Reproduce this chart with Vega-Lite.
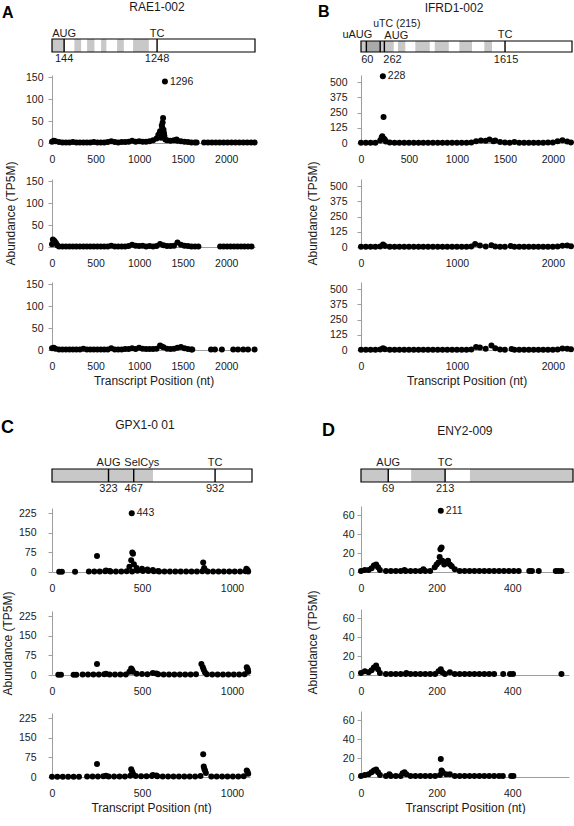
{
"$schema": "https://vega.github.io/schema/vega-lite/v6.json",
"background": "white",
"autosize": {"type": "pad"},
"padding": {"left": 1, "top": 0, "right": 0, "bottom": 0},
"columns": 2,
"bounds": "flush",
"align": "each",
"spacing": {"row": 0, "column": 106},
"datasets": {
"panels": [{"g":"A","letter":"A","gene":"RAE1-002"},{"g":"B","letter":"B","gene":"IFRD1-002"},{"g":"C","letter":"C","gene":"GPX1-0 01"},{"g":"D","letter":"D","gene":"ENY2-009"}],
"seg": [
{"g":"A","s":0,"e":2411,"kind":"transcript"},{"g":"A","s":0,"e":144,"kind":"shaded"},{"g":"A","s":266,"e":346,"kind":"shaded"},{"g":"A","s":417,"e":504,"kind":"shaded"},{"g":"A","s":583,"e":646,"kind":"shaded"},{"g":"A","s":773,"e":853,"kind":"shaded"},{"g":"A","s":963,"e":1150,"kind":"shaded"},
{"g":"B","s":0,"e":2366,"kind":"transcript"},{"g":"B","s":0,"e":60,"kind":"shaded"},{"g":"B","s":60,"e":215,"kind":"uorf"},{"g":"B","s":215,"e":367,"kind":"shaded"},{"g":"B","s":415,"e":497,"kind":"shaded"},{"g":"B","s":609,"e":771,"kind":"shaded"},{"g":"B","s":827,"e":984,"kind":"shaded"},{"g":"B","s":1103,"e":1245,"kind":"shaded"},{"g":"B","s":1383,"e":1469,"kind":"shaded"},
{"g":"C","s":0,"e":1143,"kind":"transcript"},{"g":"C","s":0,"e":577,"kind":"shaded"},
{"g":"D","s":0,"e":537,"kind":"transcript"},{"g":"D","s":0,"e":69,"kind":"shaded"},{"g":"D","s":127,"e":213,"kind":"shaded"},{"g":"D","s":276,"e":537,"kind":"shaded"}
],
"feat": [
{"g":"A","pos":144,"name":"AUG","num":"144"},{"g":"A","pos":1248,"name":"TC","num":"1248"},
{"g":"B","pos":60,"name":"uAUG","num":"60"},{"g":"B","pos":215,"name":"uTC (215)","num":""},{"g":"B","pos":262,"name":"AUG","num":"262"},{"g":"B","pos":1615,"name":"TC","num":"1615"},
{"g":"C","pos":323,"name":"AUG","num":"323"},{"g":"C","pos":467,"name":"SelCys","num":"467"},{"g":"C","pos":932,"name":"TC","num":"932"},
{"g":"D","pos":69,"name":"AUG","num":"69"},{"g":"D","pos":213,"name":"TC","num":"213"}
],
"cond": [
{"p":"A1","c":"siGL2+siXRN1"},{"p":"A2","c":"siSMG6+siXRN1"},{"p":"A3","c":"siUPF1+siXRN1"},
{"p":"B1","c":"siGL2+siXRN1"},{"p":"B2","c":"siSMG6+siXRN1"},{"p":"B3","c":"siUPF1+siXRN1"},
{"p":"C1","c":"siGL2+siXRN1"},{"p":"C2","c":"siSMG6+siXRN1"},{"p":"C3","c":"siUPF1+siXRN1"},
{"p":"D1","c":"siGL2+siXRN1"},{"p":"D2","c":"siSMG6+siXRN1"},{"p":"D3","c":"siUPF1+siXRN1"}
],
"pts": [
{"p":"A1","x":0,"y":3},{"p":"A1","x":20,"y":5},{"p":"A1","x":40,"y":4},{"p":"A1","x":80,"y":2},{"p":"A1","x":120,"y":1},{"p":"A1","x":160,"y":1},{"p":"A1","x":200,"y":1},{"p":"A1","x":240,"y":2},{"p":"A1","x":280,"y":1},{"p":"A1","x":320,"y":1},{"p":"A1","x":360,"y":1},{"p":"A1","x":400,"y":1},{"p":"A1","x":440,"y":1},{"p":"A1","x":480,"y":2},{"p":"A1","x":520,"y":1},{"p":"A1","x":560,"y":1},{"p":"A1","x":600,"y":1},{"p":"A1","x":640,"y":2},{"p":"A1","x":680,"y":4},{"p":"A1","x":720,"y":2},{"p":"A1","x":760,"y":1},{"p":"A1","x":800,"y":2},{"p":"A1","x":840,"y":2},{"p":"A1","x":880,"y":3},{"p":"A1","x":920,"y":5},{"p":"A1","x":960,"y":3},{"p":"A1","x":1000,"y":4},{"p":"A1","x":1040,"y":3},{"p":"A1","x":1080,"y":3},{"p":"A1","x":1120,"y":4},{"p":"A1","x":1160,"y":6},{"p":"A1","x":1200,"y":10},{"p":"A1","x":1220,"y":18},{"p":"A1","x":1230,"y":20},{"p":"A1","x":1240,"y":27},{"p":"A1","x":1250,"y":12},{"p":"A1","x":1260,"y":40},{"p":"A1","x":1265,"y":35},{"p":"A1","x":1270,"y":47},{"p":"A1","x":1275,"y":57},{"p":"A1","x":1278,"y":25},{"p":"A1","x":1280,"y":30},{"p":"A1","x":1285,"y":22},{"p":"A1","x":1290,"y":16},{"p":"A1","x":1296,"y":140,"t":"1296"},{"p":"A1","x":1300,"y":8},{"p":"A1","x":1320,"y":6},{"p":"A1","x":1360,"y":5},{"p":"A1","x":1400,"y":6},{"p":"A1","x":1430,"y":8},{"p":"A1","x":1440,"y":5},{"p":"A1","x":1480,"y":4},{"p":"A1","x":1520,"y":3},{"p":"A1","x":1560,"y":2},{"p":"A1","x":1600,"y":1},{"p":"A1","x":1640,"y":1},{"p":"A1","x":1660,"y":1},{"p":"A1","x":1745,"y":1},{"p":"A1","x":1790,"y":1},{"p":"A1","x":1835,"y":1},{"p":"A1","x":1880,"y":1},{"p":"A1","x":1925,"y":1},{"p":"A1","x":1970,"y":1},{"p":"A1","x":2015,"y":1},{"p":"A1","x":2060,"y":1},{"p":"A1","x":2105,"y":1},{"p":"A1","x":2150,"y":1},{"p":"A1","x":2195,"y":1},{"p":"A1","x":2240,"y":1},{"p":"A1","x":2285,"y":1},{"p":"A1","x":2325,"y":1},
{"p":"A2","x":0,"y":6},{"p":"A2","x":10,"y":17},{"p":"A2","x":20,"y":15},{"p":"A2","x":30,"y":13},{"p":"A2","x":45,"y":9},{"p":"A2","x":60,"y":4},{"p":"A2","x":80,"y":1},{"p":"A2","x":120,"y":1},{"p":"A2","x":160,"y":1},{"p":"A2","x":200,"y":1},{"p":"A2","x":240,"y":1},{"p":"A2","x":280,"y":1},{"p":"A2","x":320,"y":1},{"p":"A2","x":360,"y":1},{"p":"A2","x":400,"y":1},{"p":"A2","x":440,"y":1},{"p":"A2","x":480,"y":1},{"p":"A2","x":520,"y":1},{"p":"A2","x":560,"y":1},{"p":"A2","x":600,"y":1},{"p":"A2","x":640,"y":1},{"p":"A2","x":680,"y":3},{"p":"A2","x":720,"y":1},{"p":"A2","x":760,"y":1},{"p":"A2","x":800,"y":1},{"p":"A2","x":840,"y":1},{"p":"A2","x":880,"y":2},{"p":"A2","x":920,"y":5},{"p":"A2","x":960,"y":3},{"p":"A2","x":1000,"y":2},{"p":"A2","x":1040,"y":3},{"p":"A2","x":1080,"y":1},{"p":"A2","x":1120,"y":2},{"p":"A2","x":1160,"y":1},{"p":"A2","x":1200,"y":2},{"p":"A2","x":1240,"y":7},{"p":"A2","x":1280,"y":4},{"p":"A2","x":1320,"y":2},{"p":"A2","x":1360,"y":2},{"p":"A2","x":1400,"y":3},{"p":"A2","x":1440,"y":10},{"p":"A2","x":1480,"y":5},{"p":"A2","x":1520,"y":3},{"p":"A2","x":1560,"y":2},{"p":"A2","x":1600,"y":1},{"p":"A2","x":1640,"y":1},{"p":"A2","x":1680,"y":1},{"p":"A2","x":1930,"y":1},{"p":"A2","x":1970,"y":1},{"p":"A2","x":2010,"y":1},{"p":"A2","x":2050,"y":1},{"p":"A2","x":2090,"y":1},{"p":"A2","x":2130,"y":1},{"p":"A2","x":2170,"y":1},{"p":"A2","x":2210,"y":1},{"p":"A2","x":2250,"y":1},{"p":"A2","x":2290,"y":1},
{"p":"A3","x":0,"y":4},{"p":"A3","x":20,"y":5},{"p":"A3","x":40,"y":3},{"p":"A3","x":80,"y":1},{"p":"A3","x":120,"y":1},{"p":"A3","x":160,"y":1},{"p":"A3","x":200,"y":1},{"p":"A3","x":240,"y":1},{"p":"A3","x":280,"y":1},{"p":"A3","x":320,"y":1},{"p":"A3","x":360,"y":3},{"p":"A3","x":400,"y":1},{"p":"A3","x":440,"y":1},{"p":"A3","x":480,"y":1},{"p":"A3","x":520,"y":1},{"p":"A3","x":560,"y":1},{"p":"A3","x":600,"y":1},{"p":"A3","x":640,"y":1},{"p":"A3","x":680,"y":4},{"p":"A3","x":720,"y":1},{"p":"A3","x":760,"y":1},{"p":"A3","x":800,"y":1},{"p":"A3","x":840,"y":2},{"p":"A3","x":880,"y":2},{"p":"A3","x":920,"y":4},{"p":"A3","x":960,"y":2},{"p":"A3","x":1000,"y":5},{"p":"A3","x":1040,"y":3},{"p":"A3","x":1080,"y":2},{"p":"A3","x":1120,"y":2},{"p":"A3","x":1160,"y":2},{"p":"A3","x":1200,"y":3},{"p":"A3","x":1240,"y":10},{"p":"A3","x":1260,"y":8},{"p":"A3","x":1280,"y":6},{"p":"A3","x":1320,"y":3},{"p":"A3","x":1360,"y":2},{"p":"A3","x":1400,"y":3},{"p":"A3","x":1440,"y":5},{"p":"A3","x":1480,"y":7},{"p":"A3","x":1520,"y":4},{"p":"A3","x":1560,"y":2},{"p":"A3","x":1600,"y":1},{"p":"A3","x":1610,"y":1},{"p":"A3","x":1825,"y":1},{"p":"A3","x":1870,"y":1},{"p":"A3","x":1950,"y":1},{"p":"A3","x":2080,"y":1},{"p":"A3","x":2135,"y":1},{"p":"A3","x":2195,"y":1},{"p":"A3","x":2250,"y":1},{"p":"A3","x":2325,"y":1},
{"p":"B1","x":0,"y":3},{"p":"B1","x":50,"y":2},{"p":"B1","x":100,"y":2},{"p":"B1","x":150,"y":3},{"p":"B1","x":200,"y":20},{"p":"B1","x":215,"y":45},{"p":"B1","x":222,"y":55},{"p":"B1","x":228,"y":549,"t":"228"},{"p":"B1","x":235,"y":214},{"p":"B1","x":240,"y":35},{"p":"B1","x":250,"y":25},{"p":"B1","x":260,"y":12},{"p":"B1","x":300,"y":5},{"p":"B1","x":350,"y":3},{"p":"B1","x":400,"y":2},{"p":"B1","x":450,"y":2},{"p":"B1","x":500,"y":2},{"p":"B1","x":550,"y":2},{"p":"B1","x":600,"y":2},{"p":"B1","x":650,"y":2},{"p":"B1","x":700,"y":3},{"p":"B1","x":750,"y":2},{"p":"B1","x":800,"y":2},{"p":"B1","x":850,"y":3},{"p":"B1","x":900,"y":2},{"p":"B1","x":950,"y":2},{"p":"B1","x":1000,"y":2},{"p":"B1","x":1050,"y":3},{"p":"B1","x":1100,"y":3},{"p":"B1","x":1150,"y":5},{"p":"B1","x":1200,"y":15},{"p":"B1","x":1250,"y":20},{"p":"B1","x":1300,"y":18},{"p":"B1","x":1340,"y":28},{"p":"B1","x":1380,"y":15},{"p":"B1","x":1400,"y":20},{"p":"B1","x":1450,"y":8},{"p":"B1","x":1500,"y":4},{"p":"B1","x":1550,"y":3},{"p":"B1","x":1600,"y":8},{"p":"B1","x":1650,"y":3},{"p":"B1","x":1700,"y":2},{"p":"B1","x":1750,"y":2},{"p":"B1","x":1800,"y":3},{"p":"B1","x":1850,"y":2},{"p":"B1","x":1900,"y":3},{"p":"B1","x":1950,"y":4},{"p":"B1","x":2000,"y":5},{"p":"B1","x":2050,"y":15},{"p":"B1","x":2100,"y":22},{"p":"B1","x":2150,"y":12},{"p":"B1","x":2190,"y":5},
{"p":"B2","x":0,"y":2},{"p":"B2","x":50,"y":2},{"p":"B2","x":100,"y":2},{"p":"B2","x":150,"y":2},{"p":"B2","x":200,"y":5},{"p":"B2","x":230,"y":20},{"p":"B2","x":250,"y":8},{"p":"B2","x":300,"y":2},{"p":"B2","x":350,"y":2},{"p":"B2","x":400,"y":2},{"p":"B2","x":450,"y":2},{"p":"B2","x":500,"y":2},{"p":"B2","x":550,"y":2},{"p":"B2","x":600,"y":2},{"p":"B2","x":650,"y":2},{"p":"B2","x":700,"y":2},{"p":"B2","x":750,"y":2},{"p":"B2","x":800,"y":2},{"p":"B2","x":850,"y":2},{"p":"B2","x":900,"y":2},{"p":"B2","x":950,"y":2},{"p":"B2","x":1000,"y":2},{"p":"B2","x":1050,"y":2},{"p":"B2","x":1100,"y":3},{"p":"B2","x":1150,"y":5},{"p":"B2","x":1190,"y":25},{"p":"B2","x":1240,"y":12},{"p":"B2","x":1300,"y":5},{"p":"B2","x":1360,"y":15},{"p":"B2","x":1400,"y":5},{"p":"B2","x":1450,"y":3},{"p":"B2","x":1500,"y":2},{"p":"B2","x":1560,"y":8},{"p":"B2","x":1600,"y":2},{"p":"B2","x":1650,"y":2},{"p":"B2","x":1700,"y":2},{"p":"B2","x":1750,"y":2},{"p":"B2","x":1800,"y":2},{"p":"B2","x":1850,"y":2},{"p":"B2","x":1900,"y":2},{"p":"B2","x":1950,"y":3},{"p":"B2","x":2000,"y":3},{"p":"B2","x":2050,"y":5},{"p":"B2","x":2100,"y":10},{"p":"B2","x":2150,"y":12},{"p":"B2","x":2190,"y":6},
{"p":"B3","x":0,"y":2},{"p":"B3","x":50,"y":2},{"p":"B3","x":100,"y":2},{"p":"B3","x":150,"y":2},{"p":"B3","x":200,"y":5},{"p":"B3","x":230,"y":15},{"p":"B3","x":250,"y":6},{"p":"B3","x":300,"y":2},{"p":"B3","x":350,"y":2},{"p":"B3","x":400,"y":2},{"p":"B3","x":450,"y":2},{"p":"B3","x":500,"y":2},{"p":"B3","x":550,"y":2},{"p":"B3","x":600,"y":2},{"p":"B3","x":650,"y":2},{"p":"B3","x":700,"y":2},{"p":"B3","x":750,"y":2},{"p":"B3","x":800,"y":2},{"p":"B3","x":850,"y":2},{"p":"B3","x":900,"y":2},{"p":"B3","x":950,"y":2},{"p":"B3","x":1000,"y":2},{"p":"B3","x":1050,"y":2},{"p":"B3","x":1100,"y":3},{"p":"B3","x":1150,"y":5},{"p":"B3","x":1200,"y":25},{"p":"B3","x":1240,"y":20},{"p":"B3","x":1300,"y":10},{"p":"B3","x":1360,"y":38},{"p":"B3","x":1400,"y":15},{"p":"B3","x":1450,"y":5},{"p":"B3","x":1500,"y":3},{"p":"B3","x":1570,"y":8},{"p":"B3","x":1600,"y":2},{"p":"B3","x":1650,"y":2},{"p":"B3","x":1700,"y":2},{"p":"B3","x":1750,"y":2},{"p":"B3","x":1800,"y":2},{"p":"B3","x":1850,"y":2},{"p":"B3","x":1900,"y":2},{"p":"B3","x":1950,"y":3},{"p":"B3","x":2000,"y":3},{"p":"B3","x":2050,"y":4},{"p":"B3","x":2100,"y":12},{"p":"B3","x":2150,"y":10},{"p":"B3","x":2190,"y":6},
{"p":"C1","x":40,"y":1},{"p":"C1","x":55,"y":1},{"p":"C1","x":128,"y":1},{"p":"C1","x":205,"y":2},{"p":"C1","x":235,"y":2},{"p":"C1","x":250,"y":61},{"p":"C1","x":265,"y":2},{"p":"C1","x":295,"y":3},{"p":"C1","x":300,"y":6},{"p":"C1","x":320,"y":4},{"p":"C1","x":325,"y":2},{"p":"C1","x":355,"y":2},{"p":"C1","x":385,"y":2},{"p":"C1","x":415,"y":3},{"p":"C1","x":430,"y":20},{"p":"C1","x":440,"y":45},{"p":"C1","x":443,"y":225,"t":"443"},{"p":"C1","x":445,"y":2},{"p":"C1","x":446,"y":75},{"p":"C1","x":450,"y":70},{"p":"C1","x":455,"y":30},{"p":"C1","x":470,"y":15},{"p":"C1","x":475,"y":5},{"p":"C1","x":500,"y":12},{"p":"C1","x":505,"y":4},{"p":"C1","x":530,"y":10},{"p":"C1","x":535,"y":4},{"p":"C1","x":560,"y":8},{"p":"C1","x":565,"y":3},{"p":"C1","x":590,"y":4},{"p":"C1","x":595,"y":2},{"p":"C1","x":625,"y":2},{"p":"C1","x":655,"y":2},{"p":"C1","x":685,"y":2},{"p":"C1","x":715,"y":2},{"p":"C1","x":745,"y":2},{"p":"C1","x":775,"y":2},{"p":"C1","x":805,"y":2},{"p":"C1","x":835,"y":3},{"p":"C1","x":840,"y":36},{"p":"C1","x":845,"y":15},{"p":"C1","x":850,"y":8},{"p":"C1","x":865,"y":2},{"p":"C1","x":895,"y":2},{"p":"C1","x":925,"y":2},{"p":"C1","x":955,"y":2},{"p":"C1","x":985,"y":2},{"p":"C1","x":1015,"y":2},{"p":"C1","x":1045,"y":2},{"p":"C1","x":1075,"y":3},{"p":"C1","x":1080,"y":12},{"p":"C1","x":1086,"y":8},{"p":"C1","x":1090,"y":2},
{"p":"C2","x":35,"y":1},{"p":"C2","x":50,"y":1},{"p":"C2","x":120,"y":1},{"p":"C2","x":135,"y":1},{"p":"C2","x":170,"y":2},{"p":"C2","x":200,"y":2},{"p":"C2","x":230,"y":2},{"p":"C2","x":250,"y":42},{"p":"C2","x":260,"y":2},{"p":"C2","x":290,"y":3},{"p":"C2","x":300,"y":5},{"p":"C2","x":320,"y":2},{"p":"C2","x":350,"y":2},{"p":"C2","x":380,"y":2},{"p":"C2","x":410,"y":2},{"p":"C2","x":430,"y":12},{"p":"C2","x":440,"y":25},{"p":"C2","x":445,"y":20},{"p":"C2","x":450,"y":12},{"p":"C2","x":470,"y":5},{"p":"C2","x":500,"y":4},{"p":"C2","x":530,"y":3},{"p":"C2","x":560,"y":8},{"p":"C2","x":580,"y":6},{"p":"C2","x":590,"y":3},{"p":"C2","x":620,"y":2},{"p":"C2","x":650,"y":2},{"p":"C2","x":680,"y":2},{"p":"C2","x":710,"y":2},{"p":"C2","x":740,"y":2},{"p":"C2","x":770,"y":2},{"p":"C2","x":800,"y":3},{"p":"C2","x":830,"y":42},{"p":"C2","x":838,"y":30},{"p":"C2","x":843,"y":20},{"p":"C2","x":850,"y":10},{"p":"C2","x":860,"y":3},{"p":"C2","x":890,"y":2},{"p":"C2","x":920,"y":2},{"p":"C2","x":950,"y":2},{"p":"C2","x":980,"y":2},{"p":"C2","x":1010,"y":2},{"p":"C2","x":1040,"y":2},{"p":"C2","x":1070,"y":3},{"p":"C2","x":1082,"y":30},{"p":"C2","x":1085,"y":25},{"p":"C2","x":1088,"y":20},{"p":"C2","x":1090,"y":12},
{"p":"C3","x":0,"y":1},{"p":"C3","x":30,"y":1},{"p":"C3","x":60,"y":1},{"p":"C3","x":90,"y":1},{"p":"C3","x":120,"y":1},{"p":"C3","x":150,"y":1},{"p":"C3","x":195,"y":2},{"p":"C3","x":225,"y":2},{"p":"C3","x":250,"y":50},{"p":"C3","x":255,"y":2},{"p":"C3","x":285,"y":3},{"p":"C3","x":300,"y":5},{"p":"C3","x":315,"y":2},{"p":"C3","x":345,"y":2},{"p":"C3","x":375,"y":2},{"p":"C3","x":405,"y":2},{"p":"C3","x":435,"y":5},{"p":"C3","x":440,"y":30},{"p":"C3","x":445,"y":20},{"p":"C3","x":450,"y":12},{"p":"C3","x":465,"y":4},{"p":"C3","x":495,"y":3},{"p":"C3","x":525,"y":3},{"p":"C3","x":555,"y":4},{"p":"C3","x":560,"y":8},{"p":"C3","x":580,"y":6},{"p":"C3","x":585,"y":3},{"p":"C3","x":615,"y":2},{"p":"C3","x":645,"y":2},{"p":"C3","x":675,"y":2},{"p":"C3","x":705,"y":2},{"p":"C3","x":735,"y":2},{"p":"C3","x":765,"y":2},{"p":"C3","x":795,"y":2},{"p":"C3","x":825,"y":4},{"p":"C3","x":840,"y":87},{"p":"C3","x":843,"y":40},{"p":"C3","x":846,"y":32},{"p":"C3","x":850,"y":25},{"p":"C3","x":855,"y":15},{"p":"C3","x":885,"y":2},{"p":"C3","x":915,"y":2},{"p":"C3","x":945,"y":2},{"p":"C3","x":975,"y":2},{"p":"C3","x":1005,"y":2},{"p":"C3","x":1035,"y":2},{"p":"C3","x":1065,"y":3},{"p":"C3","x":1082,"y":25},{"p":"C3","x":1086,"y":20},{"p":"C3","x":1090,"y":12},
{"p":"D1","x":0,"y":1},{"p":"D1","x":10,"y":2},{"p":"D1","x":20,"y":2},{"p":"D1","x":28,"y":4},{"p":"D1","x":34,"y":7},{"p":"D1","x":40,"y":8},{"p":"D1","x":45,"y":5},{"p":"D1","x":50,"y":2},{"p":"D1","x":66,"y":1},{"p":"D1","x":79,"y":1},{"p":"D1","x":92,"y":1},{"p":"D1","x":105,"y":1},{"p":"D1","x":115,"y":2},{"p":"D1","x":118,"y":1},{"p":"D1","x":131,"y":1},{"p":"D1","x":144,"y":1},{"p":"D1","x":157,"y":1},{"p":"D1","x":165,"y":3},{"p":"D1","x":170,"y":1},{"p":"D1","x":183,"y":1},{"p":"D1","x":195,"y":5},{"p":"D1","x":200,"y":8},{"p":"D1","x":205,"y":10},{"p":"D1","x":208,"y":16},{"p":"D1","x":210,"y":24},{"p":"D1","x":211,"y":65,"t":"211"},{"p":"D1","x":213,"y":26},{"p":"D1","x":215,"y":12},{"p":"D1","x":220,"y":8},{"p":"D1","x":225,"y":10},{"p":"D1","x":230,"y":12},{"p":"D1","x":235,"y":8},{"p":"D1","x":240,"y":6},{"p":"D1","x":248,"y":3},{"p":"D1","x":261,"y":1},{"p":"D1","x":274,"y":1},{"p":"D1","x":287,"y":1},{"p":"D1","x":300,"y":1},{"p":"D1","x":313,"y":1},{"p":"D1","x":326,"y":1},{"p":"D1","x":339,"y":1},{"p":"D1","x":352,"y":1},{"p":"D1","x":365,"y":1},{"p":"D1","x":378,"y":1},{"p":"D1","x":391,"y":1},{"p":"D1","x":404,"y":1},{"p":"D1","x":417,"y":1},{"p":"D1","x":445,"y":1},{"p":"D1","x":452,"y":1},{"p":"D1","x":470,"y":1},{"p":"D1","x":515,"y":1},{"p":"D1","x":522,"y":1},{"p":"D1","x":530,"y":1},
{"p":"D2","x":0,"y":2},{"p":"D2","x":10,"y":4},{"p":"D2","x":20,"y":3},{"p":"D2","x":28,"y":5},{"p":"D2","x":34,"y":8},{"p":"D2","x":40,"y":10},{"p":"D2","x":45,"y":6},{"p":"D2","x":50,"y":2},{"p":"D2","x":66,"y":1},{"p":"D2","x":79,"y":1},{"p":"D2","x":92,"y":1},{"p":"D2","x":105,"y":1},{"p":"D2","x":118,"y":1},{"p":"D2","x":120,"y":2},{"p":"D2","x":131,"y":1},{"p":"D2","x":144,"y":1},{"p":"D2","x":157,"y":1},{"p":"D2","x":170,"y":1},{"p":"D2","x":183,"y":1},{"p":"D2","x":196,"y":1},{"p":"D2","x":205,"y":4},{"p":"D2","x":211,"y":6},{"p":"D2","x":215,"y":3},{"p":"D2","x":222,"y":1},{"p":"D2","x":235,"y":3},{"p":"D2","x":248,"y":1},{"p":"D2","x":261,"y":1},{"p":"D2","x":274,"y":1},{"p":"D2","x":287,"y":1},{"p":"D2","x":300,"y":1},{"p":"D2","x":313,"y":1},{"p":"D2","x":326,"y":1},{"p":"D2","x":339,"y":1},{"p":"D2","x":352,"y":1},{"p":"D2","x":376,"y":1},{"p":"D2","x":394,"y":1},{"p":"D2","x":402,"y":1},{"p":"D2","x":530,"y":1},
{"p":"D3","x":0,"y":1},{"p":"D3","x":10,"y":2},{"p":"D3","x":20,"y":3},{"p":"D3","x":28,"y":5},{"p":"D3","x":34,"y":7},{"p":"D3","x":40,"y":8},{"p":"D3","x":45,"y":5},{"p":"D3","x":50,"y":2},{"p":"D3","x":66,"y":1},{"p":"D3","x":75,"y":3},{"p":"D3","x":79,"y":1},{"p":"D3","x":92,"y":1},{"p":"D3","x":105,"y":1},{"p":"D3","x":110,"y":4},{"p":"D3","x":115,"y":5},{"p":"D3","x":120,"y":3},{"p":"D3","x":131,"y":1},{"p":"D3","x":144,"y":1},{"p":"D3","x":157,"y":1},{"p":"D3","x":170,"y":1},{"p":"D3","x":183,"y":1},{"p":"D3","x":196,"y":1},{"p":"D3","x":209,"y":2},{"p":"D3","x":211,"y":19},{"p":"D3","x":213,"y":7},{"p":"D3","x":216,"y":5},{"p":"D3","x":225,"y":3},{"p":"D3","x":235,"y":3},{"p":"D3","x":248,"y":1},{"p":"D3","x":261,"y":1},{"p":"D3","x":274,"y":1},{"p":"D3","x":287,"y":1},{"p":"D3","x":300,"y":1},{"p":"D3","x":313,"y":1},{"p":"D3","x":326,"y":1},{"p":"D3","x":339,"y":1},{"p":"D3","x":352,"y":1},{"p":"D3","x":365,"y":1},{"p":"D3","x":375,"y":1},{"p":"D3","x":397,"y":1},{"p":"D3","x":403,"y":1}
]
},
"concat": [
{"width":203,"height":52,"layer":[
 {"data":{"name":"seg"},"transform":[{"filter":"datum.g=='A'"}],"mark":{"type":"rect"},
  "encoding":{"x":{"field":"s","type":"quantitative","scale":{"domain":[0,2411],"nice":false,"zero":false},"axis":null},"x2":{"field":"e"},
   "y":{"datum":0,"type":"quantitative","scale":{"domain":[0,1],"range":[52,39],"nice":false},"axis":null},"y2":{"datum":1},
   "color":{"field":"kind","type":"nominal","scale":{"domain":["transcript","shaded","uorf"],"range":["#ffffff","#c8c8c8","#a9a9a9"]},"legend":null}}},
 {"data":{"name":"feat"},"transform":[{"filter":"datum.g=='A'"}],"mark":{"type":"rule","color":"#000","strokeWidth":1.4},
  "encoding":{"x":{"field":"pos","type":"quantitative","scale":{"domain":[0,2411],"nice":false,"zero":false},"axis":null},
   "y":{"datum":0,"type":"quantitative","scale":{"domain":[0,1],"range":[52,39],"nice":false},"axis":null},"y2":{"datum":1}}},
 {"data":{"name":"seg"},"transform":[{"filter":"datum.g=='A'&&datum.kind=='transcript'"}],"mark":{"type":"rect","filled":false,"color":"#000","strokeWidth":1.2},
  "encoding":{"x":{"field":"s","type":"quantitative","scale":{"domain":[0,2411],"nice":false,"zero":false},"axis":null},"x2":{"field":"e"},
   "y":{"datum":0,"type":"quantitative","scale":{"domain":[0,1],"range":[52,39],"nice":false},"axis":null},"y2":{"datum":1}}},
 {"data":{"name":"feat"},"transform":[{"filter":"datum.g=='A'"}],"mark":{"type":"text","baseline":"middle","dy":-5,"fontSize":11},
  "encoding":{"x":{"field":"pos","type":"quantitative","scale":{"domain":[0,2411],"nice":false,"zero":false},"axis":null},
   "y":{"datum":1,"type":"quantitative","scale":{"domain":[0,1],"range":[52,39],"nice":false},"axis":null},"text":{"field":"name"}}},
 {"data":{"name":"feat"},"transform":[{"filter":"datum.g=='A'"}],"mark":{"type":"text","baseline":"middle","dy":7,"fontSize":11},
  "encoding":{"x":{"field":"pos","type":"quantitative","scale":{"domain":[0,2411],"nice":false,"zero":false},"axis":null},
   "y":{"datum":0,"type":"quantitative","scale":{"domain":[0,1],"range":[52,39],"nice":false},"axis":null},"text":{"field":"num"}}},
 {"data":{"name":"panels"},"transform":[{"filter":"datum.g=='A'"}],"mark":{"type":"text","baseline":"middle","dy":-32,"fontSize":12},
  "encoding":{"x":{"datum":1247,"type":"quantitative","scale":{"domain":[0,2411],"nice":false,"zero":false},"axis":null},
   "y":{"datum":1,"type":"quantitative","scale":{"domain":[0,1],"range":[52,39],"nice":false},"axis":null},"text":{"field":"gene"}}},
 {"data":{"name":"panels"},"transform":[{"filter":"datum.g=='A'"}],"mark":{"type":"text","align":"left","baseline":"middle","dy":-26,"fontSize":16,"fontWeight":"bold","color":"#000"},
  "encoding":{"x":{"datum":-594,"type":"quantitative","scale":{"domain":[0,2411],"nice":false,"zero":false},"axis":null},
   "y":{"datum":1,"type":"quantitative","scale":{"domain":[0,1],"range":[52,39],"nice":false},"axis":null},"text":{"field":"letter"}}}
]},
{"width":211,"height":52,"layer":[
 {"data":{"name":"seg"},"transform":[{"filter":"datum.g=='B'"}],"mark":{"type":"rect"},
  "encoding":{"x":{"field":"s","type":"quantitative","scale":{"domain":[0,2366],"nice":false,"zero":false},"axis":null},"x2":{"field":"e"},
   "y":{"datum":0,"type":"quantitative","scale":{"domain":[0,1],"range":[52,41],"nice":false},"axis":null},"y2":{"datum":1},
   "color":{"field":"kind","type":"nominal","scale":{"domain":["transcript","shaded","uorf"],"range":["#ffffff","#c8c8c8","#a9a9a9"]},"legend":null}}},
 {"data":{"name":"feat"},"transform":[{"filter":"datum.g=='B'"}],"mark":{"type":"rule","color":"#000","strokeWidth":1.4},
  "encoding":{"x":{"field":"pos","type":"quantitative","scale":{"domain":[0,2366],"nice":false,"zero":false},"axis":null},
   "y":{"datum":0,"type":"quantitative","scale":{"domain":[0,1],"range":[52,41],"nice":false},"axis":null},"y2":{"datum":1}}},
 {"data":{"name":"seg"},"transform":[{"filter":"datum.g=='B'&&datum.kind=='transcript'"}],"mark":{"type":"rect","filled":false,"color":"#000","strokeWidth":1.2},
  "encoding":{"x":{"field":"s","type":"quantitative","scale":{"domain":[0,2366],"nice":false,"zero":false},"axis":null},"x2":{"field":"e"},
   "y":{"datum":0,"type":"quantitative","scale":{"domain":[0,1],"range":[52,41],"nice":false},"axis":null},"y2":{"datum":1}}},
 {"data":{"name":"feat"},"transform":[{"filter":"datum.g=='B'&&datum.name=='TC'"}],"mark":{"type":"text","baseline":"middle","dy":-6,"fontSize":11},
  "encoding":{"x":{"field":"pos","type":"quantitative","scale":{"domain":[0,2366],"nice":false,"zero":false},"axis":null},
   "y":{"datum":1,"type":"quantitative","scale":{"domain":[0,1],"range":[52,41],"nice":false},"axis":null},"text":{"field":"name"}}},
 {"data":{"name":"feat"},"transform":[{"filter":"datum.g=='B'&&datum.name=='uAUG'"}],"mark":{"type":"text","align":"right","baseline":"middle","dx":6,"dy":-6,"fontSize":11},
  "encoding":{"x":{"field":"pos","type":"quantitative","scale":{"domain":[0,2366],"nice":false,"zero":false},"axis":null},
   "y":{"datum":1,"type":"quantitative","scale":{"domain":[0,1],"range":[52,41],"nice":false},"axis":null},"text":{"field":"name"}}},
 {"data":{"name":"feat"},"transform":[{"filter":"datum.g=='B'&&datum.name=='AUG'"}],"mark":{"type":"text","align":"left","baseline":"middle","dy":-5,"fontSize":11},
  "encoding":{"x":{"field":"pos","type":"quantitative","scale":{"domain":[0,2366],"nice":false,"zero":false},"axis":null},
   "y":{"datum":1,"type":"quantitative","scale":{"domain":[0,1],"range":[52,41],"nice":false},"axis":null},"text":{"field":"name"}}},
 {"data":{"name":"feat"},"transform":[{"filter":"datum.g=='B'&&datum.name=='uTC (215)'"}],"mark":{"type":"text","align":"left","baseline":"middle","dx":-7,"dy":-17,"fontSize":10.5},
  "encoding":{"x":{"field":"pos","type":"quantitative","scale":{"domain":[0,2366],"nice":false,"zero":false},"axis":null},
   "y":{"datum":1,"type":"quantitative","scale":{"domain":[0,1],"range":[52,41],"nice":false},"axis":null},"text":{"field":"name"}}},
 {"data":{"name":"feat"},"transform":[{"filter":"datum.g=='B'&&(datum.num=='60'||datum.num=='1615')"}],"mark":{"type":"text","baseline":"middle","dx":1,"dy":8,"fontSize":11},
  "encoding":{"x":{"field":"pos","type":"quantitative","scale":{"domain":[0,2366],"nice":false,"zero":false},"axis":null},
   "y":{"datum":0,"type":"quantitative","scale":{"domain":[0,1],"range":[52,41],"nice":false},"axis":null},"text":{"field":"num"}}},
 {"data":{"name":"feat"},"transform":[{"filter":"datum.g=='B'&&datum.num=='262'"}],"mark":{"type":"text","align":"left","baseline":"middle","dx":-1,"dy":8,"fontSize":11},
  "encoding":{"x":{"field":"pos","type":"quantitative","scale":{"domain":[0,2366],"nice":false,"zero":false},"axis":null},
   "y":{"datum":0,"type":"quantitative","scale":{"domain":[0,1],"range":[52,41],"nice":false},"axis":null},"text":{"field":"num"}}},
 {"data":{"name":"panels"},"transform":[{"filter":"datum.g=='B'"}],"mark":{"type":"text","baseline":"middle","dy":-33.5,"fontSize":12},
  "encoding":{"x":{"datum":1043,"type":"quantitative","scale":{"domain":[0,2366],"nice":false,"zero":false},"axis":null},
   "y":{"datum":1,"type":"quantitative","scale":{"domain":[0,1],"range":[52,41],"nice":false},"axis":null},"text":{"field":"gene"}}},
 {"data":{"name":"panels"},"transform":[{"filter":"datum.g=='B'"}],"mark":{"type":"text","align":"left","baseline":"middle","dy":-29.5,"fontSize":16,"fontWeight":"bold","color":"#000"},
  "encoding":{"x":{"datum":-482,"type":"quantitative","scale":{"domain":[0,2366],"nice":false,"zero":false},"axis":null},
   "y":{"datum":1,"type":"quantitative","scale":{"domain":[0,1],"range":[52,41],"nice":false},"axis":null},"text":{"field":"letter"}}}
]},
{"width":203,"height":91,
 "encoding":{"x":{"field":"x","type":"quantitative","scale":{"domain":[0,2330],"nice":false},"axis":{"values":[0,500,1000,1500,2000],"title":null}},
  "y":{"field":"y","type":"quantitative","scale":{"domain":[0,155],"range":[91,23],"nice":false},"axis":{"values":[0,50,100,150],"title":null,"labelPadding":5}}},
 "layer":[
 {"data":{"name":"pts"},"transform":[{"filter":"datum.p=='A1'"}],"mark":{"type":"circle","size":36,"color":"#000","opacity":1}},
 {"data":{"name":"pts"},"transform":[{"filter":"datum.p=='A1'&&datum.t"}],"mark":{"type":"text","align":"left","baseline":"middle","dx":5,"fontSize":10.5},"encoding":{"text":{"field":"t"}}},
 {"data":{"name":"cond"},"transform":[{"filter":"datum.p=='A1'"}],"mark":{"type":"text","align":"right","baseline":"middle","fontSize":10.5},"encoding":{"x":{"datum":2430},"y":{"datum":48},"text":{"field":"c"}}}
]},
{"width":211,"height":91,
 "encoding":{"x":{"field":"x","type":"quantitative","scale":{"domain":[0,2200],"nice":false},"axis":{"values":[0,500,1000,1500,2000],"title":null}},
  "y":{"field":"y","type":"quantitative","scale":{"domain":[0,560],"range":[91,23],"nice":false},"axis":{"values":[0,125,250,375,500],"title":null,"labelPadding":10}}},
 "layer":[
 {"data":{"name":"pts"},"transform":[{"filter":"datum.p=='B1'"}],"mark":{"type":"circle","size":36,"color":"#000","opacity":1}},
 {"data":{"name":"pts"},"transform":[{"filter":"datum.p=='B1'&&datum.t"}],"mark":{"type":"text","align":"left","baseline":"middle","dx":5,"fontSize":10.5},"encoding":{"text":{"field":"t"}}},
 {"data":{"name":"cond"},"transform":[{"filter":"datum.p=='B1'"}],"mark":{"type":"text","align":"right","baseline":"middle","fontSize":10.5},"encoding":{"x":{"datum":2012},"y":{"datum":173},"text":{"field":"c"}}}
]},
{"width":203,"height":104,
 "encoding":{"x":{"field":"x","type":"quantitative","scale":{"domain":[0,2330],"nice":false},"axis":{"values":[0,500,1000,1500,2000],"title":null}},
  "y":{"field":"y","type":"quantitative","scale":{"domain":[0,155],"range":[104,36],"nice":false},"axis":{"values":[0,50,100,150],"title":"Abundance (TP5M)","titleX":-42,"titleAngle":270,"titleBaseline":"middle","labelPadding":5}}},
 "layer":[
 {"data":{"name":"pts"},"transform":[{"filter":"datum.p=='A2'"}],"mark":{"type":"circle","size":36,"color":"#000","opacity":1}},
 {"data":{"name":"cond"},"transform":[{"filter":"datum.p=='A2'"}],"mark":{"type":"text","align":"right","baseline":"middle","fontSize":10.5},"encoding":{"x":{"datum":2480},"y":{"datum":52},"text":{"field":"c"}}}
]},
{"width":211,"height":104,
 "encoding":{"x":{"field":"x","type":"quantitative","scale":{"domain":[0,2200],"nice":false},"axis":{"values":[0,1000,2000],"title":null}},
  "y":{"field":"y","type":"quantitative","scale":{"domain":[0,560],"range":[104,36],"nice":false},"axis":{"values":[0,125,250,375,500],"title":"Abundance (TP5M)","titleX":-49,"titleAngle":270,"titleBaseline":"middle","labelPadding":10}}},
 "layer":[
 {"data":{"name":"pts"},"transform":[{"filter":"datum.p=='B2'"}],"mark":{"type":"circle","size":36,"color":"#000","opacity":1}},
 {"data":{"name":"cond"},"transform":[{"filter":"datum.p=='B2'"}],"mark":{"type":"text","align":"right","baseline":"middle","fontSize":10.5},"encoding":{"x":{"datum":2075},"y":{"datum":148},"text":{"field":"c"}}}
]},
{"width":203,"height":103,
 "encoding":{"x":{"field":"x","type":"quantitative","scale":{"domain":[0,2330],"nice":false},"axis":{"values":[0,500,1000,1500,2000],"title":"Transcript Position (nt)"}},
  "y":{"field":"y","type":"quantitative","scale":{"domain":[0,155],"range":[103,35],"nice":false},"axis":{"values":[0,50,100,150],"title":null,"labelPadding":5}}},
 "layer":[
 {"data":{"name":"pts"},"transform":[{"filter":"datum.p=='A3'"}],"mark":{"type":"circle","size":36,"color":"#000","opacity":1}},
 {"data":{"name":"cond"},"transform":[{"filter":"datum.p=='A3'"}],"mark":{"type":"text","align":"right","baseline":"middle","fontSize":10.5},"encoding":{"x":{"datum":2470},"y":{"datum":48},"text":{"field":"c"}}}
]},
{"width":211,"height":103,
 "encoding":{"x":{"field":"x","type":"quantitative","scale":{"domain":[0,2200],"nice":false},"axis":{"values":[0,1000,2000],"title":"Transcript Position (nt)"}},
  "y":{"field":"y","type":"quantitative","scale":{"domain":[0,560],"range":[103,35],"nice":false},"axis":{"values":[0,125,250,375,500],"title":null,"labelPadding":10}}},
 "layer":[
 {"data":{"name":"pts"},"transform":[{"filter":"datum.p=='B3'"}],"mark":{"type":"circle","size":36,"color":"#000","opacity":1}},
 {"data":{"name":"cond"},"transform":[{"filter":"datum.p=='B3'"}],"mark":{"type":"text","align":"right","baseline":"middle","fontSize":10.5},"encoding":{"x":{"datum":2054},"y":{"datum":148},"text":{"field":"c"}}}
]},
{"width":200,"height":132,"layer":[
 {"data":{"name":"seg"},"transform":[{"filter":"datum.g=='C'"}],"mark":{"type":"rect"},
  "encoding":{"x":{"field":"s","type":"quantitative","scale":{"domain":[0,1143],"nice":false,"zero":false},"axis":null},"x2":{"field":"e"},
   "y":{"datum":0,"type":"quantitative","scale":{"domain":[0,1],"range":[132,119],"nice":false},"axis":null},"y2":{"datum":1},
   "color":{"field":"kind","type":"nominal","scale":{"domain":["transcript","shaded","uorf"],"range":["#ffffff","#c8c8c8","#a9a9a9"]},"legend":null}}},
 {"data":{"name":"feat"},"transform":[{"filter":"datum.g=='C'"}],"mark":{"type":"rule","color":"#000","strokeWidth":1.4},
  "encoding":{"x":{"field":"pos","type":"quantitative","scale":{"domain":[0,1143],"nice":false,"zero":false},"axis":null},
   "y":{"datum":0,"type":"quantitative","scale":{"domain":[0,1],"range":[132,119],"nice":false},"axis":null},"y2":{"datum":1}}},
 {"data":{"name":"seg"},"transform":[{"filter":"datum.g=='C'&&datum.kind=='transcript'"}],"mark":{"type":"rect","filled":false,"color":"#000","strokeWidth":1.2},
  "encoding":{"x":{"field":"s","type":"quantitative","scale":{"domain":[0,1143],"nice":false,"zero":false},"axis":null},"x2":{"field":"e"},
   "y":{"datum":0,"type":"quantitative","scale":{"domain":[0,1],"range":[132,119],"nice":false},"axis":null},"y2":{"datum":1}}},
 {"data":{"name":"feat"},"transform":[{"filter":"datum.g=='C'&&datum.name!='SelCys'"}],"mark":{"type":"text","baseline":"middle","dy":-6,"fontSize":11},
  "encoding":{"x":{"field":"pos","type":"quantitative","scale":{"domain":[0,1143],"nice":false,"zero":false},"axis":null},
   "y":{"datum":1,"type":"quantitative","scale":{"domain":[0,1],"range":[132,119],"nice":false},"axis":null},"text":{"field":"name"}}},
 {"data":{"name":"feat"},"transform":[{"filter":"datum.g=='C'&&datum.name=='SelCys'"}],"mark":{"type":"text","baseline":"middle","dx":8,"dy":-6,"fontSize":11},
  "encoding":{"x":{"field":"pos","type":"quantitative","scale":{"domain":[0,1143],"nice":false,"zero":false},"axis":null},
   "y":{"datum":1,"type":"quantitative","scale":{"domain":[0,1],"range":[132,119],"nice":false},"axis":null},"text":{"field":"name"}}},
 {"data":{"name":"feat"},"transform":[{"filter":"datum.g=='C'"}],"mark":{"type":"text","baseline":"middle","dy":7,"fontSize":11},
  "encoding":{"x":{"field":"pos","type":"quantitative","scale":{"domain":[0,1143],"nice":false,"zero":false},"axis":null},
   "y":{"datum":0,"type":"quantitative","scale":{"domain":[0,1],"range":[132,119],"nice":false},"axis":null},"text":{"field":"num"}}},
 {"data":{"name":"panels"},"transform":[{"filter":"datum.g=='C'"}],"mark":{"type":"text","baseline":"middle","dy":-44,"fontSize":12},
  "encoding":{"x":{"datum":531,"type":"quantitative","scale":{"domain":[0,1143],"nice":false,"zero":false},"axis":null},
   "y":{"datum":1,"type":"quantitative","scale":{"domain":[0,1],"range":[132,119],"nice":false},"axis":null},"text":{"field":"gene"}}},
 {"data":{"name":"panels"},"transform":[{"filter":"datum.g=='C'"}],"mark":{"type":"text","align":"left","baseline":"middle","dy":-41,"fontSize":18,"fontWeight":"bold","color":"#000"},
  "encoding":{"x":{"datum":-291,"type":"quantitative","scale":{"domain":[0,1143],"nice":false,"zero":false},"axis":null},
   "y":{"datum":1,"type":"quantitative","scale":{"domain":[0,1],"range":[132,119],"nice":false},"axis":null},"text":{"field":"letter"}}}
]},
{"width":212,"height":132,"layer":[
 {"data":{"name":"seg"},"transform":[{"filter":"datum.g=='D'"}],"mark":{"type":"rect"},
  "encoding":{"x":{"field":"s","type":"quantitative","scale":{"domain":[0,537],"nice":false,"zero":false},"axis":null},"x2":{"field":"e"},
   "y":{"datum":0,"type":"quantitative","scale":{"domain":[0,1],"range":[132,119],"nice":false},"axis":null},"y2":{"datum":1},
   "color":{"field":"kind","type":"nominal","scale":{"domain":["transcript","shaded","uorf"],"range":["#ffffff","#c8c8c8","#a9a9a9"]},"legend":null}}},
 {"data":{"name":"feat"},"transform":[{"filter":"datum.g=='D'"}],"mark":{"type":"rule","color":"#000","strokeWidth":1.4},
  "encoding":{"x":{"field":"pos","type":"quantitative","scale":{"domain":[0,537],"nice":false,"zero":false},"axis":null},
   "y":{"datum":0,"type":"quantitative","scale":{"domain":[0,1],"range":[132,119],"nice":false},"axis":null},"y2":{"datum":1}}},
 {"data":{"name":"seg"},"transform":[{"filter":"datum.g=='D'&&datum.kind=='transcript'"}],"mark":{"type":"rect","filled":false,"color":"#000","strokeWidth":1.2},
  "encoding":{"x":{"field":"s","type":"quantitative","scale":{"domain":[0,537],"nice":false,"zero":false},"axis":null},"x2":{"field":"e"},
   "y":{"datum":0,"type":"quantitative","scale":{"domain":[0,1],"range":[132,119],"nice":false},"axis":null},"y2":{"datum":1}}},
 {"data":{"name":"feat"},"transform":[{"filter":"datum.g=='D'"}],"mark":{"type":"text","baseline":"middle","dy":-6,"fontSize":11},
  "encoding":{"x":{"field":"pos","type":"quantitative","scale":{"domain":[0,537],"nice":false,"zero":false},"axis":null},
   "y":{"datum":1,"type":"quantitative","scale":{"domain":[0,1],"range":[132,119],"nice":false},"axis":null},"text":{"field":"name"}}},
 {"data":{"name":"feat"},"transform":[{"filter":"datum.g=='D'"}],"mark":{"type":"text","baseline":"middle","dy":7,"fontSize":11},
  "encoding":{"x":{"field":"pos","type":"quantitative","scale":{"domain":[0,537],"nice":false,"zero":false},"axis":null},
   "y":{"datum":0,"type":"quantitative","scale":{"domain":[0,1],"range":[132,119],"nice":false},"axis":null},"text":{"field":"num"}}},
 {"data":{"name":"panels"},"transform":[{"filter":"datum.g=='D'"}],"mark":{"type":"text","baseline":"middle","dy":-38,"fontSize":12},
  "encoding":{"x":{"datum":263,"type":"quantitative","scale":{"domain":[0,537],"nice":false,"zero":false},"axis":null},
   "y":{"datum":1,"type":"quantitative","scale":{"domain":[0,1],"range":[132,119],"nice":false},"axis":null},"text":{"field":"gene"}}},
 {"data":{"name":"panels"},"transform":[{"filter":"datum.g=='D'"}],"mark":{"type":"text","align":"left","baseline":"middle","dy":-38,"fontSize":18,"fontWeight":"bold","color":"#000"},
  "encoding":{"x":{"datum":-99,"type":"quantitative","scale":{"domain":[0,537],"nice":false,"zero":false},"axis":null},
   "y":{"datum":1,"type":"quantitative","scale":{"domain":[0,1],"range":[132,119],"nice":false},"axis":null},"text":{"field":"letter"}}}
]},
{"width":198,"height":90,
 "encoding":{"x":{"field":"x","type":"quantitative","scale":{"domain":[0,1100],"nice":false},"axis":{"values":[0,500,1000],"title":null}},
  "y":{"field":"y","type":"quantitative","scale":{"domain":[0,245],"range":[90,26],"nice":false},"axis":{"values":[0,75,150,225],"title":null,"labelPadding":12}}},
 "layer":[
 {"data":{"name":"pts"},"transform":[{"filter":"datum.p=='C1'"}],"mark":{"type":"circle","size":36,"color":"#000","opacity":1}},
 {"data":{"name":"pts"},"transform":[{"filter":"datum.p=='C1'&&datum.t"}],"mark":{"type":"text","align":"left","baseline":"middle","dx":5,"fontSize":10.5},"encoding":{"text":{"field":"t"}}},
 {"data":{"name":"cond"},"transform":[{"filter":"datum.p=='C1'"}],"mark":{"type":"text","align":"right","baseline":"middle","fontSize":10.5},"encoding":{"x":{"datum":1061},"y":{"datum":73},"text":{"field":"c"}}}
]},
{"width":208,"height":90,
 "encoding":{"x":{"field":"x","type":"quantitative","scale":{"domain":[0,550],"nice":false},"axis":{"values":[0,200,400],"title":null}},
  "y":{"field":"y","type":"quantitative","scale":{"domain":[0,70],"range":[90,24],"nice":false},"axis":{"values":[0,20,40,60],"title":null,"labelPadding":3}}},
 "layer":[
 {"data":{"name":"pts"},"transform":[{"filter":"datum.p=='D1'"}],"mark":{"type":"circle","size":36,"color":"#000","opacity":1}},
 {"data":{"name":"pts"},"transform":[{"filter":"datum.p=='D1'&&datum.t"}],"mark":{"type":"text","align":"left","baseline":"middle","dx":5,"fontSize":10.5},"encoding":{"text":{"field":"t"}}},
 {"data":{"name":"cond"},"transform":[{"filter":"datum.p=='D1'"}],"mark":{"type":"text","align":"right","baseline":"middle","fontSize":10.5},"encoding":{"x":{"datum":553},"y":{"datum":17},"text":{"field":"c"}}}
]},
{"width":198,"height":103,
 "encoding":{"x":{"field":"x","type":"quantitative","scale":{"domain":[0,1100],"nice":false},"axis":{"values":[0,500,1000],"title":null}},
  "y":{"field":"y","type":"quantitative","scale":{"domain":[0,245],"range":[103,39],"nice":false},"axis":{"values":[0,75,150,225],"title":"Abundance (TP5M)","titleX":-45,"titleAngle":270,"titleBaseline":"middle","labelPadding":12}}},
 "layer":[
 {"data":{"name":"pts"},"transform":[{"filter":"datum.p=='C2'"}],"mark":{"type":"circle","size":36,"color":"#000","opacity":1}},
 {"data":{"name":"cond"},"transform":[{"filter":"datum.p=='C2'"}],"mark":{"type":"text","align":"right","baseline":"middle","fontSize":10.5},"encoding":{"x":{"datum":1050},"y":{"datum":111},"text":{"field":"c"}}}
]},
{"width":208,"height":103,
 "encoding":{"x":{"field":"x","type":"quantitative","scale":{"domain":[0,550],"nice":false},"axis":{"values":[0,200,400],"title":null}},
  "y":{"field":"y","type":"quantitative","scale":{"domain":[0,70],"range":[103,37],"nice":false},"axis":{"values":[0,20,40,60],"title":"Abundance (TP5M)","titleX":-49,"titleAngle":270,"titleBaseline":"middle","labelPadding":3}}},
 "layer":[
 {"data":{"name":"pts"},"transform":[{"filter":"datum.p=='D2'"}],"mark":{"type":"circle","size":36,"color":"#000","opacity":1}},
 {"data":{"name":"cond"},"transform":[{"filter":"datum.p=='D2'"}],"mark":{"type":"text","align":"right","baseline":"middle","fontSize":10.5},"encoding":{"x":{"datum":558},"y":{"datum":20},"text":{"field":"c"}}}
]},
{"width":198,"height":102,
 "encoding":{"x":{"field":"x","type":"quantitative","scale":{"domain":[0,1100],"nice":false},"axis":{"values":[0,500,1000],"title":"Transcript Position (nt)"}},
  "y":{"field":"y","type":"quantitative","scale":{"domain":[0,245],"range":[102,38],"nice":false},"axis":{"values":[0,75,150,225],"title":null,"labelPadding":12}}},
 "layer":[
 {"data":{"name":"pts"},"transform":[{"filter":"datum.p=='C3'"}],"mark":{"type":"circle","size":36,"color":"#000","opacity":1}},
 {"data":{"name":"cond"},"transform":[{"filter":"datum.p=='C3'"}],"mark":{"type":"text","align":"right","baseline":"middle","fontSize":10.5},"encoding":{"x":{"datum":1039},"y":{"datum":111},"text":{"field":"c"}}}
]},
{"width":208,"height":102,
 "encoding":{"x":{"field":"x","type":"quantitative","scale":{"domain":[0,550],"nice":false},"axis":{"values":[0,200,400],"title":"Transcript Position (nt)"}},
  "y":{"field":"y","type":"quantitative","scale":{"domain":[0,70],"range":[102,36],"nice":false},"axis":{"values":[0,20,40,60],"title":null,"labelPadding":3}}},
 "layer":[
 {"data":{"name":"pts"},"transform":[{"filter":"datum.p=='D3'"}],"mark":{"type":"circle","size":36,"color":"#000","opacity":1}},
 {"data":{"name":"cond"},"transform":[{"filter":"datum.p=='D3'"}],"mark":{"type":"text","align":"right","baseline":"middle","fontSize":10.5},"encoding":{"x":{"datum":556},"y":{"datum":29},"text":{"field":"c"}}}
]}
],
"config": {
 "view": {"stroke": null},
 "font": "Liberation Sans",
 "numberFormat": "d",
 "text": {"font": "Liberation Sans", "color": "#1a1a1a"},
 "axis": {"grid": false, "labelFont": "Liberation Sans", "titleFont": "Liberation Sans", "labelFontSize": 10.5, "labelColor": "#1a1a1a", "titleFontSize": 12, "titleFontWeight": "normal", "titleColor": "#1a1a1a", "domainColor": "#9e9e9e", "domainWidth": 1, "tickColor": "#9e9e9e", "labelFlush": false, "labelOverlap": false},
 "axisX": {"ticks": false, "labelPadding": 11, "titlePadding": 4},
 "axisY": {"tickSize": 4, "labelPadding": 5}
}
}
